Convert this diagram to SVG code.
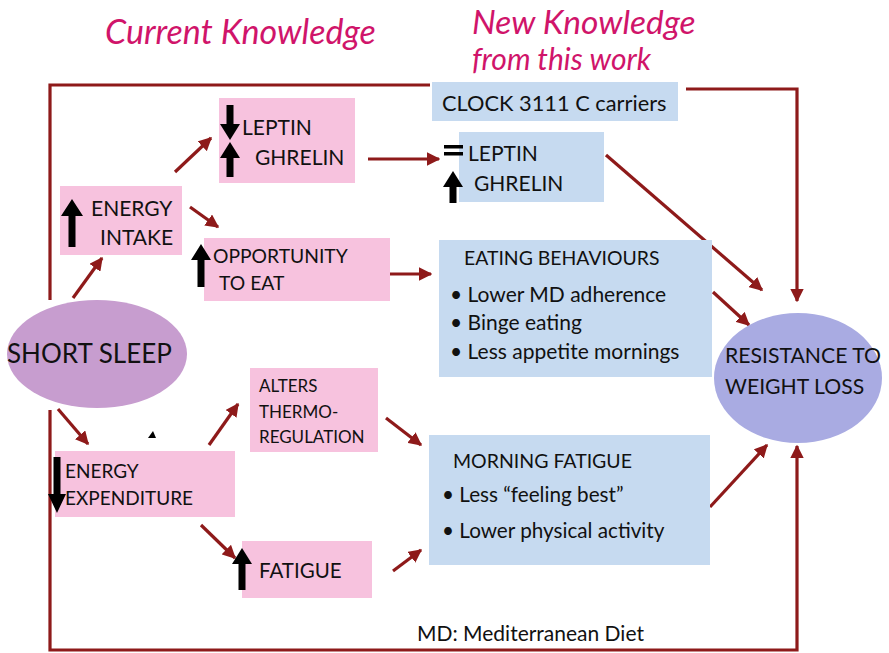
<svg xmlns="http://www.w3.org/2000/svg" width="889" height="653" viewBox="0 0 889 653">
  <style>
    .title { font-family: "Lato", "Liberation Sans", sans-serif; font-style: italic; fill: #d0146a; }
    .lbl { font-family: "Lato", "Liberation Sans", sans-serif; fill: #111; }
    .pink { fill: #f7c2de; }
    .blue { fill: #c6daf0; }
    .link { fill: none; stroke: #8e1a1a; stroke-width: 3.2; }
    .blk { fill: #000; }
  </style>
  <defs>
    <marker id="head" viewBox="0 0 10 10" refX="9" refY="5" markerWidth="4.2" markerHeight="4.2" markerUnits="strokeWidth" orient="auto">
      <path d="M0,0 L10,5 L0,10 Z" fill="#8e1a1a"/>
    </marker>
  </defs>
  <rect width="889" height="653" fill="#fff"/>

  <!-- headings -->
  <text class="title" x="105" y="44" font-size="34">Current Knowledge</text>
  <text class="title" x="472" y="34" font-size="33.5">New Knowledge</text>
  <text class="title" x="472" y="70" font-size="30">from this work</text>

  <!-- connectors -->
  <g id="connectors">
    <path class="link" d="M50,300 V85 H430"/>
    <path class="link" d="M686,89 H797 V301" marker-end="url(#head)"/>
    <path class="link" d="M50,410 V650 H797 V446" marker-end="url(#head)"/>
    <path class="link" d="M73,298 L102,258" marker-end="url(#head)"/>
    <path class="link" d="M175,172 L211,138" marker-end="url(#head)"/>
    <path class="link" d="M190,207 L218,227" marker-end="url(#head)"/>
    <path class="link" d="M368,159 L439,159" marker-end="url(#head)"/>
    <path class="link" d="M389,274 L431,274" marker-end="url(#head)"/>
    <path class="link" d="M606,155 L762,290" marker-end="url(#head)"/>
    <path class="link" d="M713,292 L749,325" marker-end="url(#head)"/>
    <path class="link" d="M58,409 L88,444" marker-end="url(#head)"/>
    <path class="link" d="M209,445 L238,404" marker-end="url(#head)"/>
    <path class="link" d="M201,525 L235,558" marker-end="url(#head)"/>
    <path class="link" d="M386,418 L421,445" marker-end="url(#head)"/>
    <path class="link" d="M393,571 L421,550" marker-end="url(#head)"/>
    <path class="link" d="M710,507 L767,445" marker-end="url(#head)"/>
  </g>

  <!-- stray mark -->
  <path class="blk" d="M148,438 L153,431 L156,438 Z"/>

  <g id="short-sleep">
    <ellipse cx="97" cy="354" rx="90" ry="54" fill="#c79dcf"/>
    <text class="lbl" x="7" y="363" font-size="26">SHORT SLEEP</text>
  </g>

  <g id="energy-intake">
    <rect class="pink" x="60" y="186" width="122" height="69"/>
    <path class="blk" d="M72,199 L83,216 L75.5,216 L75.5,247 L68.5,247 L68.5,216 L61,216 Z"/>
    <text class="lbl" x="91" y="216" font-size="21">ENERGY</text>
    <text class="lbl" x="100" y="245" font-size="21">INTAKE</text>
  </g>

  <g id="leptin-ghrelin">
    <rect class="pink" x="219" y="98" width="136" height="85"/>
    <path class="blk" d="M230,140 L220,124 L226.5,124 L226.5,105 L233.5,105 L233.5,124 L240,124 Z"/>
    <path class="blk" d="M230,142 L240,158 L233.5,158 L233.5,177 L226.5,177 L226.5,158 L220,158 Z"/>
    <text class="lbl" x="242" y="135" font-size="21">LEPTIN</text>
    <text class="lbl" x="255" y="165" font-size="21">GHRELIN</text>
  </g>

  <g id="opportunity">
    <rect class="pink" x="204" y="238" width="186" height="63"/>
    <path class="blk" d="M201,244 L211,260 L204.5,260 L204.5,287 L197.5,287 L197.5,260 L191,260 Z"/>
    <text class="lbl" x="213" y="263" font-size="19.3">OPPORTUNITY</text>
    <text class="lbl" x="219" y="290" font-size="19.3">TO EAT</text>
  </g>

  <g id="energy-expenditure">
    <rect class="pink" x="55" y="451" width="180" height="66"/>
    <path class="blk" d="M57,513 L48,494 L53.5,494 L53.5,457 L60.5,457 L60.5,494 L66,494 Z"/>
    <text class="lbl" x="65" y="478" font-size="19">ENERGY</text>
    <text class="lbl" x="65" y="505" font-size="19">EXPENDITURE</text>
  </g>

  <g id="thermoregulation">
    <rect class="pink" x="250" y="368" width="128" height="84"/>
    <text class="lbl" x="259" y="392" font-size="17">ALTERS</text>
    <text class="lbl" x="259" y="418" font-size="17">THERMO-</text>
    <text class="lbl" x="259" y="443" font-size="17">REGULATION</text>
  </g>

  <g id="fatigue">
    <rect class="pink" x="242" y="541" width="130" height="57"/>
    <path class="blk" d="M242,548 L252,564 L245.5,564 L245.5,590 L238.5,590 L238.5,564 L232,564 Z"/>
    <text class="lbl" x="259" y="578" font-size="20.5">FATIGUE</text>
  </g>

  <g id="clock-carriers">
    <rect class="blue" x="432" y="82" width="246" height="39"/>
    <text class="lbl" x="442" y="111" font-size="21.8">CLOCK 3111 C carriers</text>
  </g>

  <g id="leptin-ghrelin-new">
    <rect class="blue" x="459" y="132" width="145" height="70"/>
    <rect class="blk" x="444" y="145" width="19" height="3.5"/>
    <rect class="blk" x="444" y="152" width="19" height="3.5"/>
    <path class="blk" d="M453,171 L463,187 L456.5,187 L456.5,203 L449.5,203 L449.5,187 L443,187 Z"/>
    <text class="lbl" x="468" y="161" font-size="21">LEPTIN</text>
    <text class="lbl" x="474" y="191" font-size="21">GHRELIN</text>
  </g>

  <g id="eating-behaviours">
    <rect class="blue" x="439" y="240" width="273" height="137"/>
    <text class="lbl" x="464" y="265" font-size="19.4">EATING BEHAVIOURS</text>
    <text class="lbl" x="450" y="302" font-size="21">• Lower MD adherence</text>
    <text class="lbl" x="450" y="330" font-size="21">• Binge eating</text>
    <text class="lbl" x="450" y="359" font-size="21">• Less appetite mornings</text>
  </g>

  <g id="morning-fatigue">
    <rect class="blue" x="429" y="435" width="281" height="130"/>
    <text class="lbl" x="453" y="468" font-size="19.5">MORNING FATIGUE</text>
    <text class="lbl" x="442" y="502" font-size="20.7">• Less “feeling best”</text>
    <text class="lbl" x="442" y="538" font-size="20.7">• Lower physical activity</text>
  </g>

  <g id="resistance">
    <ellipse cx="798" cy="378" rx="84" ry="65" fill="#a9abe2"/>
    <text class="lbl" x="725" y="363" font-size="21.2">RESISTANCE TO</text>
    <text class="lbl" x="725" y="394" font-size="21.2">WEIGHT LOSS</text>
  </g>

  <text class="lbl" x="417" y="641" font-size="21">MD: Mediterranean Diet</text>
</svg>
